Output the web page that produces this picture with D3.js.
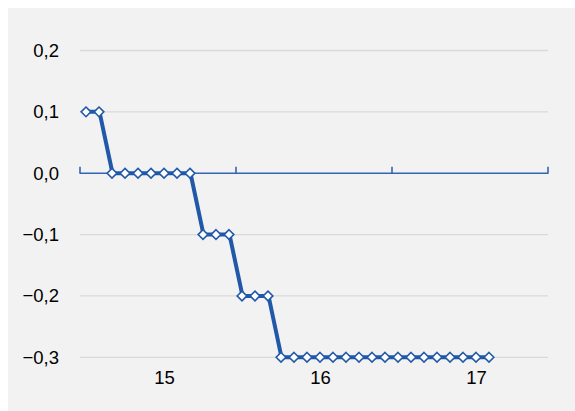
<!DOCTYPE html>
<html><head><meta charset="utf-8">
<script src="https://cdn.jsdelivr.net/npm/d3@7"></script>
<style>
html,body{margin:0;padding:0;background:#fff;}
svg{display:block;}
text{font-family:"Liberation Sans",Arial,sans-serif;fill:#000;}
</style></head>
<body>
<svg id="c" width="575" height="411"></svg>
<script>
// Categories (36 slots, labelled only at mid-year positions)
const categories = ["c0","c1","c2","c3","c4","c5","c6","c7","c8","c9","c10","c11",
  "c12","c13","c14","c15","c16","c17","c18","c19","c20","c21","c22","c23",
  "c24","c25","c26","c27","c28","c29","c30","c31","c32","c33","c34","c35"];
const tickLabels = {"c6":"15","c18":"16","c30":"17"};
const tickMarkCats = ["c0","c12","c24"];
const values = [0.1,0.1,0,0,0,0,0,0,0,-0.1,-0.1,-0.1,-0.2,-0.2,-0.2,
  -0.3,-0.3,-0.3,-0.3,-0.3,-0.3,-0.3,-0.3,-0.3,-0.3,-0.3,-0.3,-0.3,-0.3,-0.3,-0.3,-0.3];
const yTicks = [-0.3,-0.2,-0.1,0,0.1,0.2];

const svg = d3.select("#c");
const lineColor = "#2159A8";
const axisColor = "#3464B4";

svg.append("rect").attr("x",8).attr("y",8).attr("width",567).attr("height",403).attr("fill","#F2F2F2");

const x = d3.scaleBand().domain(categories).range([80,548]).padding(0);
const y = d3.scaleLinear().domain([-0.3,0.2]).range([357.3,50.5]);
const loc = d3.formatLocale({decimal:",",thousands:".",grouping:[3],currency:["","€"]});
const fmt = loc.format(".1f");

// gridlines
svg.append("g").selectAll("line").data(yTicks.filter(d=>d!==0)).join("line")
  .attr("x1",80).attr("x2",548).attr("y1",d=>y(d)).attr("y2",d=>y(d))
  .attr("stroke","#D9D9D9").attr("stroke-width",1.3);

// y axis labels
const ya = svg.append("g").attr("transform","translate(80,0)")
  .call(d3.axisLeft(y).tickValues(yTicks).tickFormat(fmt).tickSize(0).tickPadding(21));
ya.select(".domain").remove();
ya.selectAll("text").attr("font-size",18.5).attr("font-family","Liberation Sans, Arial, sans-serif").attr("fill","#000");

// x axis line at 0
const y0 = y(0);
svg.append("line").attr("x1",80).attr("x2",548).attr("y1",y0).attr("y2",y0)
  .attr("stroke",axisColor).attr("stroke-width",1.4);
const tickXs = tickMarkCats.map(c=>x(c)).concat([x.range()[1]]);
svg.append("g").selectAll("line").data(tickXs).join("line")
  .attr("x1",d=>d).attr("x2",d=>d).attr("y1",y0+0.5).attr("y2",y0-6.5)
  .attr("stroke",axisColor).attr("stroke-width",1.6);

// x labels
svg.append("g").selectAll("text").data(Object.keys(tickLabels)).join("text")
  .attr("x",d=>x(d)+x.bandwidth()/2).attr("y",383.5)
  .attr("text-anchor","middle").attr("font-size",18.5).text(d=>tickLabels[d]);

// series
const pts = values.map((v,i)=>({c:categories[i],v}));
const line = d3.line().x(d=>x(d.c)+x.bandwidth()/2).y(d=>y(d.v));
svg.append("path").datum(pts).attr("d",line).attr("fill","none")
  .attr("stroke",lineColor).attr("stroke-width",4).attr("stroke-linejoin","round");

const sym = d3.symbol().type(d3.symbolDiamond2).size(60);
svg.append("g").selectAll("path").data(pts).join("path")
  .attr("transform",d=>`translate(${x(d.c)+x.bandwidth()/2-0.5},${y(d.v)})`)
  .attr("d",sym).attr("fill","#fff").attr("stroke",lineColor).attr("stroke-width",1.6);
</script>
</body></html>
